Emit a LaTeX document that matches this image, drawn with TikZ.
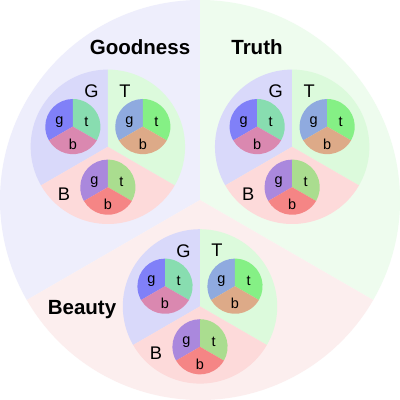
\documentclass[tikz,border=0pt]{standalone}
\usepackage{fontspec}
\setmainfont{Liberation Sans}
\usetikzlibrary{calc}

\definecolor{bigG}{HTML}{EEEEFC}\definecolor{bigT}{HTML}{EEFCEE}\definecolor{bigB}{HTML}{FCEEEE}
\definecolor{midG}{HTML}{D9D9FA}\definecolor{midT}{HTML}{DCFADC}\definecolor{midB}{HTML}{FDDADA}
\definecolor{gg}{HTML}{8080F8}\definecolor{gt}{HTML}{88DDB0}\definecolor{gb}{HTML}{DA88B0}
\definecolor{tg}{HTML}{8FAADF}\definecolor{tt}{HTML}{85F085}\definecolor{tb}{HTML}{DDAA88}
\definecolor{bg}{HTML}{AA88DD}\definecolor{bt}{HTML}{AADD8F}\definecolor{bb}{HTML}{F58585}

\begin{document}
\begin{tikzpicture}[font=\small,
  biglabel/.style={font=\fontsize{14.6}{16}\selectfont\bfseries},
  midlabel/.style={font=\fontsize{13}{15}\selectfont},
  smalllabel/.style={font=\fontsize{10.3}{12}\selectfont}]
 \def\R{5}\def\off{2.66}\def\mr{1.93}\def\soff{1.01}\def\sr{0.69}
 % three slices of one disc: G upper left, T upper right, B below
 \def\pie#1#2#3#4#5{%
  \fill[#3] (#1) -- ++(90:#2) arc[start angle=90,end angle=210,radius=#2] -- cycle;
  \fill[#4] (#1) -- ++(-30:#2) arc[start angle=-30,end angle=90,radius=#2] -- cycle;
  \fill[#5] (#1) -- ++(210:#2) arc[start angle=210,end angle=330,radius=#2] -- cycle;}
 \useasboundingbox[fill=white] (-\R,-\R) rectangle (\R,\R);
 \coordinate (O) at (0,0);
 \pie{O}{\R}{bigG}{bigT}{bigB}
 \node[biglabel] (goodness) at (-1.5,3.825) {Goodness};
 \node[biglabel] (truth) at (1.425,3.825) {Truth};
 \node[biglabel] (beauty) at (-2.95,-2.75) {Beauty};
 \foreach \m/\a in {good/150,truth/30,beauty/270}{
  \coordinate (\m) at (\a:\off);
  \pie{\m}{\mr}{midG}{midT}{midB}
  \node[midlabel] (\m-G) at ($(\m)+(-0.41,1.39)$) {G};
  \node[midlabel] (\m-T) at ($(\m)+(0.425,1.4)$) {T};
  \node[midlabel] (\m-B) at ($(\m)+(-1.1,-1.18)$) {B};
  \foreach \s/\b in {g/150,t/30,b/270}{
   \coordinate (\m-\s) at ($(\m)+(\b:\soff)$);
   \pie{\m-\s}{\sr}{\s g}{\s t}{\s b}
   \node[smalllabel] (\m-\s-g) at ($(\m-\s)+(160:0.36)$) {g};
   \node[smalllabel] (\m-\s-t) at ($(\m-\s)+(20:0.36)$) {t};
   \node[smalllabel] (\m-\s-b) at ($(\m-\s)+(270:0.44)$) {b};
  }
 }
\end{tikzpicture}
\end{document}
